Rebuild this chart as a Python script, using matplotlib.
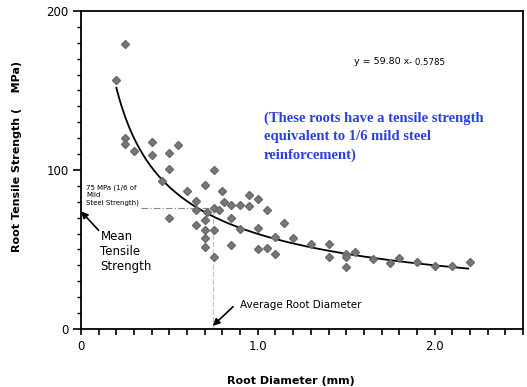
import numpy as np
import matplotlib.pyplot as plt
from matplotlib.ticker import MultipleLocator, FixedLocator

# root diameter (mm) and tensile strength (MPa)
diameter = [0.20, 0.25, 0.25, 0.25, 0.30, 0.40, 0.40, 0.50, 0.55, 0.46,
            0.50, 0.75, 0.70, 0.60, 0.80, 0.95, 1.00, 0.65, 0.81, 0.85,
            0.90, 0.95, 0.75, 0.78, 1.05, 0.65, 0.71, 0.50, 0.70, 0.85,
            0.65, 0.75, 0.70, 0.90, 1.00, 0.70, 0.70, 0.85, 1.00, 1.05,
            0.75, 1.15, 1.10, 1.10, 1.20, 1.30, 1.40, 1.40, 1.50, 1.50,
            1.55, 1.50, 1.65, 1.75, 1.80, 1.90, 2.00, 2.10, 2.20]
strength = [156.6, 179.5, 120.2, 116.4, 112.2, 117.6, 109.7, 110.5, 116.0, 92.8,
            100.8, 100.1, 90.3, 87.1, 86.5, 84.3, 81.8, 80.3, 79.6, 78.1,
            77.7, 77.4, 75.9, 74.9, 74.6, 74.6, 73.5, 70.0, 68.8, 70.0,
            65.6, 62.5, 62.1, 62.7, 63.5, 57.4, 51.7, 52.7, 50.6, 51.1,
            45.1, 66.9, 57.9, 47.0, 57.2, 53.7, 53.3, 45.0, 47.3, 45.0,
            48.5, 39.1, 44.1, 41.8, 44.7, 42.2, 39.7, 39.7, 42.2]

# power fit shown on the chart: y = a * x ^ b
fit_a = 59.80
fit_b = -0.5785
fit_range = (0.2, 2.19)

mean_strength = 76
avg_diameter = 0.745

fig = plt.figure(figsize=(5.27, 3.87), dpi=100)
ax = fig.add_axes([0.1537, 0.1499, 0.8387, 0.8217])

xf = np.linspace(fit_range[0], fit_range[1], 200)
ax.plot(xf, fit_a * xf ** fit_b, color='black', lw=1.3, zorder=2)
ax.plot(diameter, strength, 'D', color='#777777', ms=4.5, mec='#6a6a6a', zorder=3)

# dashed guide lines for the mean values
ax.plot([0.34, avg_diameter], [mean_strength, mean_strength], color='#888888',
        lw=0.8, ls=(0, (6, 2, 1, 2)), zorder=1)
ax.plot([avg_diameter, avg_diameter], [0, mean_strength], color='#b8c4d8',
        lw=0.9, ls=(0, (4, 2)), zorder=1)

ax.set_xlim(0, 2.5)
ax.set_ylim(0, 200)
ax.xaxis.set_major_locator(FixedLocator([0, 1, 2]))
ax.xaxis.set_minor_locator(MultipleLocator(0.1))
ax.set_xticklabels(['0', '1.0', '2.0'])
ax.yaxis.set_major_locator(MultipleLocator(100))
ax.yaxis.set_minor_locator(MultipleLocator(10))
ax.tick_params(axis='x', which='both', direction='out', length=4, width=1.2,
               labelsize=8.5, pad=4)
ax.tick_params(axis='y', which='major', direction='out', length=6, width=1.2,
               labelsize=8.5, pad=3)
ax.tick_params(axis='y', which='minor', direction='out', length=3, width=1)
for s in ax.spines.values():
    s.set_linewidth(1.3)

ax.set_xlabel('Root Diameter (mm)', fontsize=8, fontweight='bold')
ax.xaxis.set_label_coords(0.474, -0.148)
ax.set_ylabel('Root Tensile Strength (    MPa)', fontsize=8, fontweight='bold')
ax.yaxis.set_label_coords(-0.133, 0.544)

ax.text(1.545, 168.5, 'y = 59.80 x', fontsize=6.8, va='center')
ax.text(1.855, 167.5, '- 0.5785', fontsize=6.2, va='center')

ax.text(1.035, 137, '(These roots have a tensile strength\nequivalent to 1/6 mild steel\nreinforcement)',
        family='Liberation Serif', fontweight='bold', color='#2b3fe0',
        fontsize=10.5, va='top', linespacing=1.55)

ax.text(0.03, 91, '75 MPa (1/6 of\nMild\nSteel Strength)', fontsize=5,
        va='top', linespacing=1.3)

ax.annotate('', xy=(0.0, 74), xytext=(0.1, 62),
            arrowprops=dict(arrowstyle='-|>', color='black', lw=1.2,
                            mutation_scale=10, shrinkA=0, shrinkB=0))
ax.text(0.11, 62, 'Mean\nTensile\nStrength', fontsize=8.5, va='top',
        linespacing=1.2)

ax.annotate('', xy=(avg_diameter, 2), xytext=(0.86, 14),
            arrowprops=dict(arrowstyle='-|>', color='black', lw=1.2,
                            mutation_scale=10, shrinkA=0, shrinkB=0))
ax.text(0.9, 15, 'Average Root Diameter', fontsize=7.5, va='center')

fig.savefig('out.png', dpi=100)
